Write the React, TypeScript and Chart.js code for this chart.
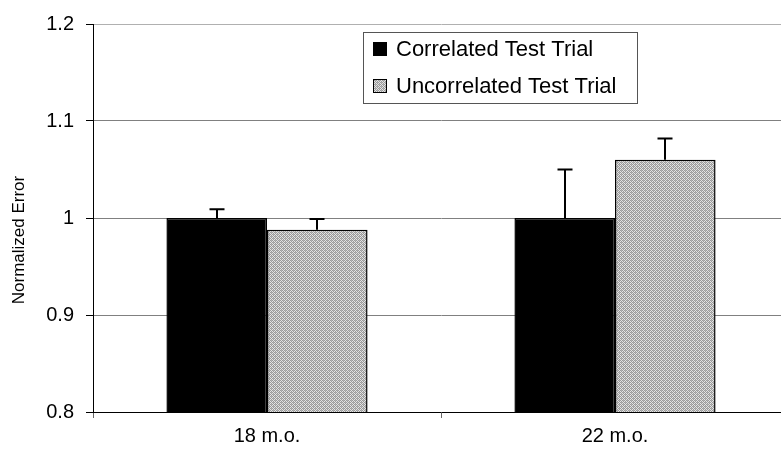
import React, { useEffect, useRef } from "react";
import { Chart, registerables } from "chart.js";
Chart.register(...registerables);

const categories = ["18 m.o.", "22 m.o."];
const seriesNames = ["Correlated Test Trial", "Uncorrelated Test Trial"];
const correlated = [1.0, 1.0];
const uncorrelated = [0.988, 1.06];
const correlatedErr = [0.009, 0.05];
const uncorrelatedErr = [0.011, 0.022];
const yTitle = "Normalized Error";
const yMin = 0.8;
const yMax = 1.2;
const yStep = 0.1;

const FONT = "'Liberation Sans', Arial, Helvetica, sans-serif";

function makeStipple(): CanvasPattern | string {
  const c = document.createElement("canvas");
  c.width = 4;
  c.height = 4;
  const g = c.getContext("2d");
  if (!g) return "#bdbdbd";
  const light = "#e4e4e4";
  const dark = "#9a9a9a";
  for (let y = 0; y < 4; y++) {
    for (let x = 0; x < 4; x++) {
      g.fillStyle = (x + y) % 2 === 0 ? dark : light;
      g.fillRect(x, y, 1, 1);
    }
  }
  g.fillStyle = "#b4b4b4";
  g.fillRect(1, 2, 1, 1);
  g.fillRect(3, 0, 1, 1);
  const p = g.createPattern(c, "repeat");
  return p || "#bdbdbd";
}

export default function App() {
  const ref = useRef<HTMLCanvasElement | null>(null);

  useEffect(() => {
    if (!ref.current) return;
    const stipple = makeStipple();
    const errs = [correlatedErr, uncorrelatedErr];

    const errorBars = {
      id: "errorBars",
      afterDatasetsDraw(chart: any) {
        const ctx = chart.ctx;
        const ys = chart.scales.y;
        ctx.save();
        ctx.strokeStyle = "#000";
        ctx.lineWidth = 2;
        chart.data.datasets.forEach((ds: any, i: number) => {
          const meta = chart.getDatasetMeta(i);
          meta.data.forEach((bar: any, j: number) => {
            const v = ds.data[j] as number;
            const top = ys.getPixelForValue(v + errs[i][j]);
            const x = Math.round(bar.x);
            ctx.beginPath();
            ctx.moveTo(x, bar.y);
            ctx.lineTo(x, top);
            ctx.moveTo(x - 7.5, top);
            ctx.lineTo(x + 7.5, top);
            ctx.stroke();
          });
        });
        ctx.restore();
      },
    };

    const customLegend = {
      id: "customLegend",
      afterDraw(chart: any) {
        const ctx = chart.ctx;
        ctx.save();
        const bx = 363.5, by = 32.5, bw = 274, bh = 71;
        ctx.fillStyle = "#fff";
        ctx.fillRect(bx, by, bw, bh);
        ctx.strokeStyle = "#555";
        ctx.lineWidth = 1;
        ctx.strokeRect(bx, by, bw, bh);
        const rows = [49, 86];
        chart.data.datasets.forEach((ds: any, i: number) => {
          const cy = rows[i];
          ctx.fillStyle = ds.backgroundColor;
          ctx.fillRect(373, cy - 7, 14, 14);
          ctx.strokeStyle = "#000";
          ctx.lineWidth = 1;
          ctx.strokeRect(373.5, cy - 6.5, 13, 13);
          ctx.fillStyle = "#000";
          ctx.font = `22px ${FONT}`;
          ctx.textBaseline = "middle";
          ctx.textAlign = "left";
          ctx.fillText(ds.label, 396, cy + 1);
        });
        ctx.restore();
      },
    };

    const yTitlePlugin = {
      id: "yTitlePlugin",
      afterDraw(chart: any) {
        const ctx = chart.ctx;
        ctx.save();
        ctx.translate(19, 240);
        ctx.rotate(-Math.PI / 2);
        ctx.fillStyle = "#000";
        ctx.font = `17px ${FONT}`;
        ctx.textAlign = "center";
        ctx.textBaseline = "middle";
        ctx.fillText(yTitle, 0, 0);
        ctx.restore();
      },
    };

    const chart = new Chart(ref.current, {
      type: "bar",
      data: {
        labels: categories,
        datasets: [
          {
            label: seriesNames[0],
            data: correlated,
            backgroundColor: "#000",
            borderColor: "#000",
            borderWidth: 1.5,
            categoryPercentage: 0.578,
            barPercentage: 1.0,
          },
          {
            label: seriesNames[1],
            data: uncorrelated,
            backgroundColor: stipple as any,
            borderColor: "#000",
            borderWidth: 1.5,
            categoryPercentage: 0.578,
            barPercentage: 1.0,
          },
        ],
      },
      options: {
        animation: false,
        responsive: true,
        maintainAspectRatio: false,
        layout: { padding: { top: 23, right: 0, left: 0, bottom: 0 } },
        plugins: {
          legend: { display: false },
          tooltip: { enabled: false },
          title: { display: false },
        },
        scales: {
          x: {
            afterFit: (s: any) => {
              s.height = 42;
            },
            grid: {
              offset: true,
              drawOnChartArea: false,
              drawTicks: true,
              tickLength: 6,
              color: "#666",
              tickColor: "#666",
            },
            border: { display: true, color: "#000", width: 1 },
            ticks: {
              color: "#000",
              font: { family: FONT, size: 20 },
              padding: 6,
            },
          },
          y: {
            min: yMin,
            max: yMax,
            afterFit: (s: any) => {
              s.width = 93;
            },
            grid: {
              color: (c: any) =>
                c.tick && Math.abs(c.tick.value - yMin) < 1e-6
                  ? "rgba(0,0,0,0)"
                  : c.tick && Math.abs(c.tick.value - yMax) < 1e-6
                  ? "#b0b0b0"
                  : "#808080",
              tickColor: "#000",
              tickLength: 7,
              lineWidth: 1,
            },
            border: { display: true, color: "#000", width: 1 },
            ticks: {
              stepSize: yStep,
              color: "#000",
              padding: 12,
              font: { family: FONT, size: 20 },
              callback: (v: any) => String(Math.round(Number(v) * 10) / 10),
            },
            title: { display: false },
          },
        },
      },
      plugins: [errorBars, customLegend, yTitlePlugin],
    });
    return () => chart.destroy();
  }, []);

  return (
    <div
      style={{
        position: "fixed",
        left: 0,
        top: 0,
        width: 781,
        height: 454,
        overflow: "hidden",
        background: "#fff",
      }}
    >
      <div style={{ position: "absolute", left: 0, top: 0, width: 789, height: 454 }}>
        <canvas ref={ref} />
      </div>
    </div>
  );
}
